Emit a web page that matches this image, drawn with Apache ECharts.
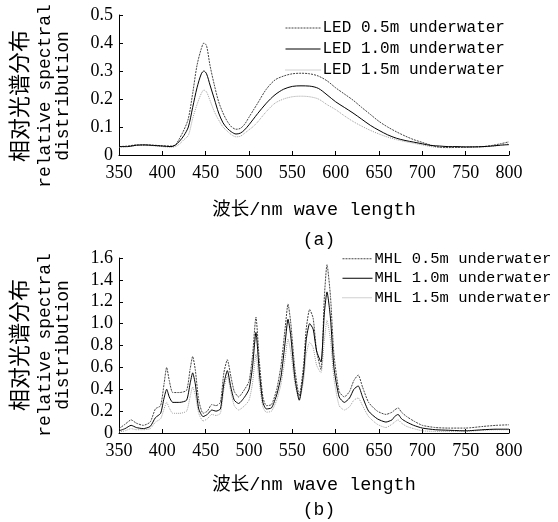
<!DOCTYPE html>
<html>
<head>
<meta charset="utf-8">
<script src="https://cdn.jsdelivr.net/npm/echarts@6/dist/echarts.min.js"></script>
<style>
  html, body { margin: 0; padding: 0; background: #fff; }
  #main { width: 558px; height: 522px; }
</style>
</head>
<body>
<div id="main"></div>
<script>
/*
 * 数据：LED 与 MHL 水下相对光谱分布
 */
var ledWave = [350,360,370,380,390,400,410,415,420,425,430,435,440,445,448,451,455,460,465,470,475,480,485,490,495,500,505,510,520,530,540,550,560,570,580,590,600,610,620,630,640,650,660,670,680,690,700,710,720,730,740,750,760,770,780,790,800];
var led05 = [.030,.032,.036,.036,.035,.033,.032,.036,.060,.090,.130,.220,.320,.380,.400,.390,.320,.250,.190,.150,.120,.100,.092,.095,.110,.135,.160,.185,.235,.268,.282,.290,.292,.290,.282,.265,.240,.218,.196,.170,.145,.120,.100,.083,.068,.055,.045,.035,.028,.027,.027,.028,.029,.030,.034,.040,.047];
var led10 = [.030,.030,.035,.036,.034,.032,.030,.035,.050,.070,.100,.170,.240,.290,.300,.290,.250,.200,.150,.115,.095,.082,.075,.078,.090,.108,.128,.148,.185,.215,.235,.245,.247,.246,.238,.215,.190,.170,.150,.128,.106,.088,.072,.060,.052,.046,.040,.034,.032,.030,.030,.029,.029,.030,.032,.035,.037];
var led15 = [.028,.030,.034,.035,.033,.030,.028,.030,.040,.055,.070,.130,.180,.220,.232,.225,.195,.155,.125,.100,.085,.072,.065,.067,.078,.090,.102,.118,.155,.185,.200,.208,.210,.208,.200,.180,.162,.140,.120,.103,.088,.075,.064,.055,.048,.042,.036,.030,.027,.026,.027,.027,.028,.029,.031,.035,.040];

var mhlWave = [350,357,364,370,378,386,392,398,402,405,408,412,420,428,432,435,438,442,447,452,457,462,467,471,475,479,483,488,495,500,504,508,512,516,520,526,532,537,542,545,548,553,558,563,566,570,574,578,583,587,590,594,598,604,610,616,621,626,631,638,648,658,665,668,672,676,682,690,700,715,730,750,770,785,800];
var mhl05 = [.04,.08,.12,.09,.07,.10,.22,.25,.45,.60,.48,.37,.37,.39,.58,.70,.58,.30,.18,.20,.26,.25,.28,.55,.67,.52,.38,.33,.40,.47,.70,1.06,.65,.33,.25,.26,.40,.62,.98,1.18,1.02,.58,.34,.62,.95,1.13,1.05,.75,.58,1.25,1.54,1.25,.72,.38,.33,.38,.48,.53,.42,.28,.20,.17,.19,.21,.23,.19,.15,.11,.07,.05,.045,.045,.06,.07,.075];
var mhl10 = [.02,.04,.07,.05,.04,.06,.14,.18,.32,.40,.33,.28,.28,.30,.45,.55,.45,.22,.15,.17,.21,.20,.22,.45,.57,.42,.30,.27,.33,.40,.60,.92,.55,.28,.22,.23,.35,.52,.85,1.04,.90,.50,.30,.55,.85,1.00,.95,.75,.65,1.10,1.29,1.05,.60,.33,.28,.32,.40,.43,.33,.20,.13,.10,.12,.15,.17,.13,.10,.07,.045,.03,.025,.02,.03,.035,.035];
var mhl15 = [.01,.02,.04,.03,.03,.04,.10,.13,.22,.28,.23,.18,.18,.20,.33,.42,.35,.18,.11,.13,.17,.16,.18,.40,.52,.38,.25,.21,.25,.30,.45,.72,.45,.24,.19,.20,.30,.45,.70,.86,.75,.45,.30,.48,.72,.83,.78,.62,.55,.85,1.03,.85,.50,.25,.21,.24,.30,.32,.25,.15,.08,.05,.08,.10,.12,.09,.06,.04,.02,.015,.015,.015,.025,.03,.03];

var ledNames = ['LED 0.5m underwater', 'LED 1.0m underwater', 'LED 1.5m underwater'];
var mhlNames = ['MHL 0.5m underwater', 'MHL 1.0m underwater', 'MHL 1.5m underwater'];

var numFont = '"Liberation Serif", serif';
var monoFont = '"Liberation Mono", "Noto Sans CJK SC", monospace';

function pairs(xs, ys) {
    return xs.map(function (x, i) { return [x, ys[i]]; });
}

function lineSeries(name, data, idx, style, smooth) {
    return {
        name: name, type: 'line', data: data, symbol: 'none',
        xAxisIndex: idx, yAxisIndex: idx, smooth: smooth,
        z: style.z, itemStyle: { color: style.color },
        lineStyle: { color: style.color, width: 1, type: style.type }
    };
}

var styles = [
    { color: '#444', type: [2, 1], z: 2 },
    { color: '#000', type: 'solid', z: 3 },
    { color: '#a0a0a0', type: [1, 1], z: 1 }
];

function xAxisOf(idx) {
    return {
        type: 'value', gridIndex: idx, min: 350, max: 800, interval: 50,
        axisLine: { lineStyle: { color: '#000', width: 1 } },
        axisTick: { inside: true, length: 4, lineStyle: { color: '#000' } },
        axisLabel: { color: '#000', fontFamily: numFont, fontSize: 18, margin: 9 },
        splitLine: { show: false }
    };
}

function yAxisOf(idx, max, step) {
    return {
        type: 'value', gridIndex: idx, min: 0, max: max, interval: step,
        axisLine: { show: true, lineStyle: { color: '#000', width: 1 } },
        axisTick: { show: true, inside: true, length: 4, lineStyle: { color: '#000' } },
        axisLabel: {
            color: '#000', fontFamily: numFont, fontSize: 18, margin: 6,
            formatter: function (v) { return v === 0 ? '0' : v.toFixed(1); }
        },
        splitLine: { show: false }
    };
}

function legendOf(names, left, top, width, gap, size) {
    return {
        data: names, orient: 'vertical', left: left, top: top, padding: 0,
        itemWidth: width, itemHeight: 18, itemGap: gap,
        itemStyle: { opacity: 0 },
        lineStyle: { width: 1 },
        textStyle: { color: '#000', fontFamily: monoFont, fontSize: size, padding: [0, 0, 0, -3] }
    };
}

function yName(cx, cy) {
    var lines = [
        { t: '相对光谱分布', dx: 0, f: '"Noto Sans CJK SC", sans-serif', s: 22 },
        { t: 'relative spectral', dx: 26, f: monoFont, s: 18 },
        { t: 'distribution', dx: 44, f: monoFont, s: 18 }
    ];
    return lines.map(function (l) {
        return {
            type: 'text', x: cx + l.dx, y: cy, rotation: Math.PI / 2,
            style: { text: l.t, font: l.s + 'px ' + l.f, fill: '#000', align: 'center', verticalAlign: 'middle' }
        };
    });
}

function caption(text, cx, cy, size) {
    return {
        type: 'text', x: cx, y: cy,
        style: { text: text, font: size + 'px ' + monoFont, fill: '#000', align: 'center', verticalAlign: 'middle' }
    };
}

var chart = echarts.init(document.getElementById('main'));

var series = [];
ledNames.forEach(function (n, i) {
    series.push(lineSeries(n, pairs(ledWave, [led05, led10, led15][i]), 0, styles[i], 0.3));
});
mhlNames.forEach(function (n, i) {
    series.push(lineSeries(n, pairs(mhlWave, [mhl05, mhl10, mhl15][i]), 1, styles[i], 0.2));
});

chart.setOption({
    animation: false,
    backgroundColor: '#fff',
    grid: [
        { left: 119, right: 49, top: 15, height: 140 },
        { left: 119, right: 49, top: 258, height: 175 }
    ],
    xAxis: [xAxisOf(0), xAxisOf(1)],
    yAxis: [yAxisOf(0, 0.5, 0.1), yAxisOf(1, 1.6, 0.2)],
    legend: [
        legendOf(ledNames, 285, 20, 35, 5, 16),
        legendOf(mhlNames, 342, 251, 30, 4, 15.5)
    ],
    graphic: yName(19, 96)
        .concat(yName(19, 345))
        .concat([
            caption('波长/nm wave length', 314, 210, 18.5),
            caption('(a)', 319, 240, 18),
            caption('波长/nm wave length', 314, 485, 18.5),
            caption('(b)', 319, 510, 18)
        ]),
    series: series
});
</script>
</body>
</html>
